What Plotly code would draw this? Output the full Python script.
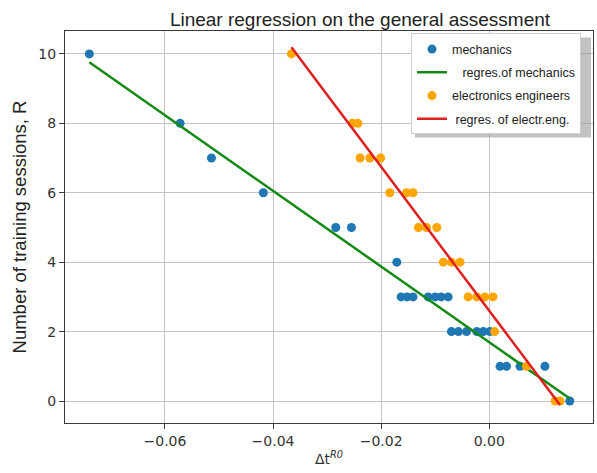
import plotly.graph_objects as go

# ---- data ----
mech_x = [-0.0740, -0.0572, -0.0514, -0.0418, -0.0284, -0.0255, -0.0171,
          -0.0163, -0.0152, -0.0141, -0.0113, -0.0100, -0.0089, -0.0076,
          -0.0070, -0.0057, -0.0042, -0.0023, -0.0011, 0.0001,
          0.0020, 0.0032, 0.0057, 0.0103, 0.0149]
mech_y = [10, 8, 7, 6, 5, 5, 4,
          3, 3, 3, 3, 3, 3, 3,
          2, 2, 2, 2, 2, 2,
          1, 1, 1, 1, 0]

elec_x = [-0.0366, -0.0253, -0.0243, -0.0239, -0.0221, -0.0201,
          -0.0184, -0.0153, -0.0141, -0.0131, -0.0116, -0.0097,
          -0.0085, -0.0070, -0.0054, -0.0039, -0.0023, -0.0008, 0.0007,
          0.0010, 0.0069, 0.0122, 0.0131]
elec_y = [10, 8, 8, 7, 7, 7,
          6, 6, 6, 5, 5, 5,
          4, 4, 4, 3, 3, 3, 3,
          2, 1, 0, 0]

# regression coefficients (intercept, slope)
mech_fit = (1.694, -109.0)
elec_fit = (2.60, -207.4)

x_ticks = [-0.06, -0.04, -0.02, 0.00]
x_tick_text = ["\u22120.06", "\u22120.04", "\u22120.02", "0.00"]
y_ticks = [0, 2, 4, 6, 8, 10]

labels = ["mechanics", "\u00a0\u00a0\u00a0regres.of mechanics",
          "electronics engineers", "\u00a0regres. of electr.eng."]


def fit_line(xs, coef):
    x0, x1 = min(xs), max(xs)
    return [x0, x1], [coef[0] + coef[1] * x0, coef[0] + coef[1] * x1]


mlx, mly = fit_line(mech_x, mech_fit)
elx, ely = fit_line(elec_x, elec_fit)

fig = go.Figure()
fig.add_trace(go.Scatter(x=mech_x, y=mech_y, mode="markers", name=labels[0],
                         legendgroup="a",
                         marker=dict(color="#1f77b4", size=9, line=dict(width=0))))
fig.add_trace(go.Scatter(x=mlx, y=mly, mode="lines", name=labels[1],
                         legendgroup="b",
                         line=dict(color="#138a13", width=2.5)))
fig.add_trace(go.Scatter(x=elec_x, y=elec_y, mode="markers", name=labels[2],
                         legendgroup="c",
                         marker=dict(color="#ffa500", size=9, line=dict(width=0))))
fig.add_trace(go.Scatter(x=elx, y=ely, mode="lines", name=labels[3],
                         legendgroup="d",
                         line=dict(color="#e01f1f", width=2.5)))

axis_common = dict(
    showline=True, mirror=True, linecolor="#3a3a3a", linewidth=1.3,
    showgrid=True, gridcolor="#c4c4c4", gridwidth=1,
    zeroline=False, ticks="outside", ticklen=5, tickcolor="#3a3a3a",
    tickfont=dict(family="DejaVu Sans", size=14, color="#333333"),
)

PX0, PX1, PY0, PY1 = 65, 593, 30.5, 422.7
PW, PH = PX1 - PX0, PY1 - PY0


def px_x(p):
    return (p - PX0) / PW


def px_y(p):
    return (PY1 - p) / PH


fig.update_layout(
    width=597, height=473,
    margin=dict(l=PX0, r=597 - PX1, t=PY0, b=473 - PY1),
    paper_bgcolor="white", plot_bgcolor="white",
    title=dict(text="Linear regression on the general assessment",
               x=px_x(360), xref="paper", xanchor="center",
               y=1 - 19 / 473, yanchor="middle",
               font=dict(family="Liberation Sans", size=19, color="#222222")),
    xaxis=dict(range=[-0.0785, 0.0192], tickvals=x_ticks, ticktext=x_tick_text,
               title=dict(text="\u0394t<sup><i>R0</i></sup>", standoff=6,
                          font=dict(family="DejaVu Sans", size=14, color="#333333")),
               **axis_common),
    yaxis=dict(range=[-0.633, 10.66], tickvals=y_ticks,
               title=dict(text="Number of training sessions, R", standoff=6,
                          font=dict(family="Liberation Sans", size=18.5, color="#222222")),
               **axis_common),
    legend=dict(x=px_x(411), y=px_y(33), xanchor="left", yanchor="top",
                bgcolor="white", bordercolor="#cfcfcf", borderwidth=1,
                font=dict(family="Liberation Sans", size=12.5, color="#222222"),
                tracegroupgap=4, traceorder="grouped"),
    showlegend=True,
)

# legend shadow
fig.add_shape(type="rect", xref="paper", yref="paper",
              x0=px_x(415), x1=px_x(591),
              y0=px_y(137), y1=px_y(37),
              fillcolor="#9a9a9a", line=dict(width=0), layer="above", opacity=0.6)

fig.write_html("out.html",
               config={"displayModeBar": False},
               post_script="document.body.style.margin='0';document.body.style.padding='0';")
